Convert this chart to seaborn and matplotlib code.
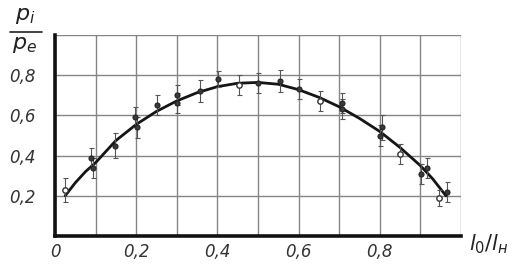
import matplotlib
matplotlib.use("Agg")
import matplotlib.pyplot as plt
import seaborn as sns
import numpy as np
import pandas as pd
from matplotlib.lines import Line2D

# ---- data ----
curve_x = [0.025, 0.05, 0.075, 0.10, 0.15, 0.20, 0.25, 0.30, 0.35, 0.40, 0.45,
           0.50, 0.55, 0.60, 0.65, 0.70, 0.75, 0.80, 0.85, 0.90, 0.93, 0.963]
curve_y = [0.200, 0.265, 0.320, 0.365, 0.475, 0.555, 0.620, 0.672, 0.713, 0.743, 0.760,
           0.764, 0.755, 0.728, 0.690, 0.643, 0.585, 0.520, 0.440, 0.350, 0.285, 0.200]

filled_x = [0.088, 0.094, 0.148, 0.198, 0.202, 0.250, 0.300, 0.300, 0.358, 0.402,
            0.499, 0.553, 0.600, 0.706, 0.708, 0.800, 0.805, 0.901, 0.916, 0.965]
filled_y = [0.39, 0.34, 0.45, 0.59, 0.54, 0.65, 0.70, 0.66, 0.72, 0.78,
            0.76, 0.77, 0.73, 0.66, 0.63, 0.50, 0.54, 0.31, 0.34, 0.22]
filled_err = [0.05, 0.05, 0.06, 0.05, 0.05, 0.05, 0.05, 0.05, 0.055, 0.04,
              0.05, 0.055, 0.05, 0.05, 0.05, 0.05, 0.06, 0.05, 0.05, 0.05]

open_x = [0.025, 0.452, 0.652, 0.849, 0.945]
open_y = [0.23, 0.75, 0.67, 0.41, 0.19]
open_err = [0.06, 0.05, 0.05, 0.05, 0.04]

x_ticks = [0.0, 0.1, 0.2, 0.3, 0.4, 0.5, 0.6, 0.7, 0.8, 0.9, 1.0]
x_ticklabels = ["0", "", "0,2", "", "0,4", "", "0,6", "", "0,8", "", ""]
y_ticks = [0.0, 0.2, 0.4, 0.6, 0.8, 1.0]
y_ticklabels = ["", "0,2", "0,4", "0,6", "0,8", ""]

sns.set_theme(style="white")
plt.rcParams["font.family"] = ["DejaVu Sans"]

W, H = 517, 266
fig = plt.figure(figsize=(W / 100, H / 100), dpi=100)
ax = fig.add_axes([55 / W, 1 - 236 / H, (461 - 55) / W, (236 - 35) / H])

ax.set_xlim(0, 1.0)
ax.set_ylim(0, 1.0)
ax.set_xticks(x_ticks)
ax.set_yticks(y_ticks)
ax.set_xticklabels(x_ticklabels, fontstyle="italic", fontsize=12, color="#333333")
ax.set_yticklabels(y_ticklabels, fontstyle="italic", fontsize=12, color="#333333")
ax.tick_params(axis="both", length=0)
ax.tick_params(axis="x", pad=5)
ax.tick_params(axis="y", pad=14)
ax.grid(True, color="#858585", linewidth=1.0)
ax.set_axisbelow(True)

for s in ["top", "right"]:
    ax.spines[s].set_visible(False)
ax.spines["left"].set_linewidth(2.6)
ax.spines["bottom"].set_linewidth(2.6)
ax.spines["left"].set_color("#111111")
ax.spines["bottom"].set_color("#111111")

curve_df = pd.DataFrame({"x": curve_x, "y": curve_y})
sns.lineplot(data=curve_df, x="x", y="y", ax=ax, color="#151515", linewidth=2.0,
             estimator=None, sort=True)

ax.errorbar(filled_x, filled_y, yerr=filled_err, fmt="none", ecolor="#555555",
            elinewidth=0.8, capsize=1.8, capthick=0.8, zorder=3)
ax.errorbar(open_x, open_y, yerr=open_err, fmt="none", ecolor="#555555",
            elinewidth=0.8, capsize=1.8, capthick=0.8, zorder=3)

fdf = pd.DataFrame({"x": filled_x, "y": filled_y})
odf = pd.DataFrame({"x": open_x, "y": open_y})
sns.scatterplot(data=fdf, x="x", y="y", ax=ax, s=13, color="#3a3a3a",
                edgecolor="#222222", linewidth=0.8, zorder=4)
sns.scatterplot(data=odf, x="x", y="y", ax=ax, s=15, facecolor="white",
                edgecolor="#333333", linewidth=1.0, zorder=4)
ax.set_xlabel("")
ax.set_ylabel("")

# y-axis label as fraction p_i / p_e
fig.text(25 / W, 1 - 16 / H, r"$p_i$", fontsize=16, ha="center", va="center", color="#222222")
fig.text(25 / W, 1 - 45 / H, r"$p_e$", fontsize=16, ha="center", va="center", color="#222222")
fig.add_artist(Line2D([10 / W, 42 / W], [1 - 32 / H, 1 - 32 / H], color="#222222", linewidth=1.2))

# x-axis label
fig.text(489 / W, 1 - 244 / H, r"$l_0/l_н$", fontsize=15, ha="center", va="center", color="#222222")

fig.savefig("out.png", dpi=100)
